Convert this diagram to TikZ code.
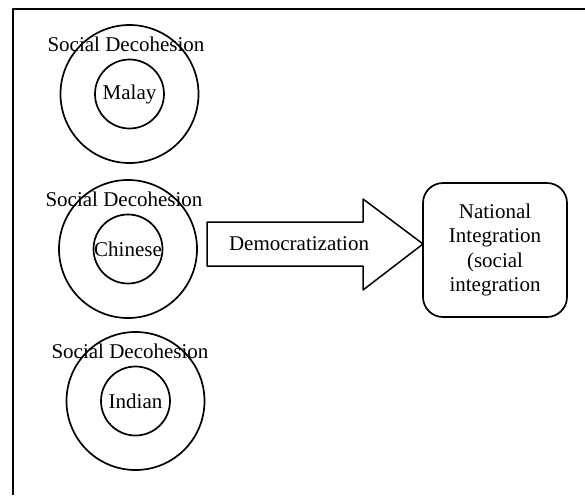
\documentclass[tikz,border=0pt]{standalone}
\usepackage{fontspec}
\setmainfont{Liberation Serif}
\begin{document}
\begin{tikzpicture}[x=1pt, y=-1pt, line join=round]
\tikzstyle{ring} = [draw,line width=1.7pt,circle,inner sep=0pt]
\tikzstyle{lbl} = [font=\fontsize{21}{24.5}\selectfont,inner sep=0pt]
  \useasboundingbox (0,0) rectangle (585,495);
  \draw[line width=2.2pt] (585,9) -- (13,9) -- (13,495);
  \foreach \i/\x/\y/\tx/\name in {1/129.5/94/126/Malay,2/128/249/124/Chinese,3/135.5/401/130/Indian}{
    \node[ring,minimum size=138] (outer\i) at (\x,\y) {};
    \node[ring,minimum size=69] (inner\i) at (\x,\y) {};
    \node[lbl] (grp\i) at (\x,\y) {\name};
    \node[lbl] (soc\i) at (\tx,\y-50) {Social Decohesion};
  }
  \draw[line width=1.5pt] (207,222) -- (363,222) -- (363,199) -- (423,244)
    -- (363,290) -- (363,266) -- (207,266) -- cycle;
  \node[lbl] (demo) at (299,244) {Democratization};
  \node[lbl,draw,line width=1.7pt,rounded corners=20,minimum width=144,
    minimum height=134,align=center] (natl) at (495,250)
    {National\\Integration\\(social\\integration};
\end{tikzpicture}
\end{document}
